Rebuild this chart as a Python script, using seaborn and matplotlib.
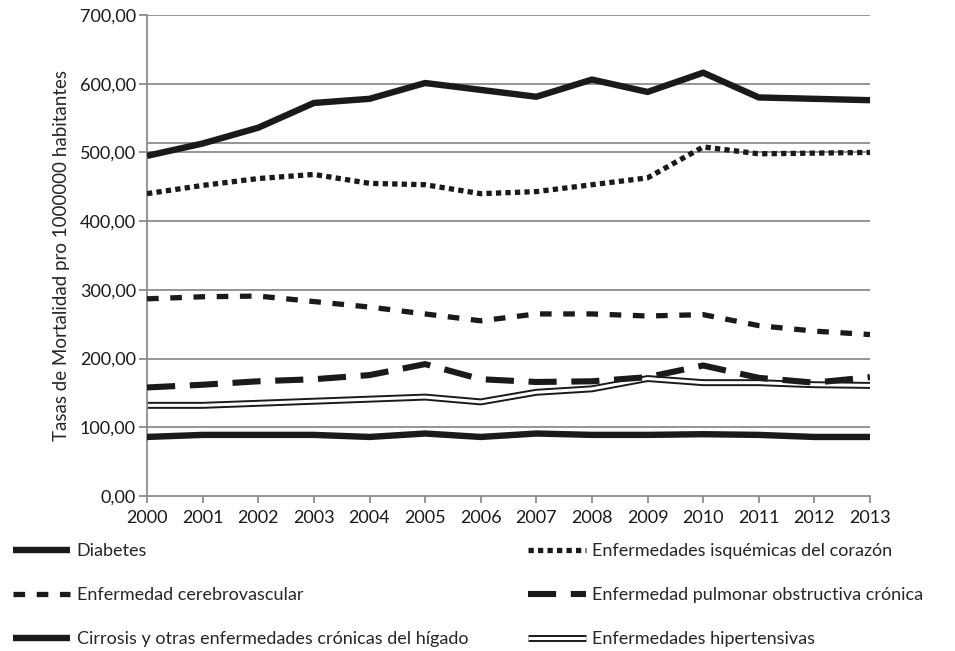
import matplotlib
matplotlib.use("Agg")
import matplotlib.pyplot as plt
from matplotlib.legend_handler import HandlerTuple
import numpy as np
import pandas as pd
import seaborn as sns
from matplotlib.lines import Line2D
from matplotlib.ticker import FuncFormatter

years = list(range(2000, 2014))

diabetes = [495, 513, 536, 572, 578, 601, 591, 581, 606, 588, 616, 580, 578, 576]
isquemicas = [440, 452, 462, 468, 455, 453, 440, 443, 453, 463, 508, 498, 499, 500]
cerebrovascular = [287, 290, 291, 283, 275, 265, 255, 265, 265, 262, 264, 248, 240, 235]
epoc = [158, 162, 167, 170, 176, 192, 170, 166, 167, 173, 190, 172, 165, 173]
cirrosis = [86, 89, 89, 89, 86, 91, 86, 91, 89, 89, 90, 89, 86, 86]
hipertensivas = [132, 132, 135, 138, 141, 144, 137, 151, 156, 171, 165, 165, 162, 161]

labels = [
    "Diabetes",
    "Enfermedades isquémicas del corazón",
    "Enfermedad cerebrovascular",
    "Enfermedad pulmonar obstructiva crónica",
    "Cirrosis y otras enfermedades crónicas del hígado",
    "Enfermedades hipertensivas",
]
series = [diabetes, isquemicas, cerebrovascular, epoc, cirrosis, hipertensivas]

df = pd.DataFrame({lab: vals for lab, vals in zip(labels, series)}, index=years)
df.index.name = "year"
long_df = df.reset_index().melt(id_vars="year", var_name="causa", value_name="tasa")

sns.set_style("white")
plt.rcParams["font.family"] = ["Lato", "DejaVu Sans"]

# line styles per series (dash patterns in units of linewidth)
styles = {
    labels[0]: dict(lw=4.6, ls="-", cap="butt"),
    labels[1]: dict(lw=3.8, ls=(0, (1.0, 0.8)), cap="butt"),
    labels[2]: dict(lw=3.8, ls=(0, (2.2, 2.2)), cap="butt"),
    labels[3]: dict(lw=4.4, ls=(0, (4.6, 2.4)), cap="butt"),
    labels[4]: dict(lw=4.6, ls="-", cap="round"),
}

fig = plt.figure(figsize=(9.55, 6.51), dpi=100)
ax = fig.add_axes([0.154, 0.238, 0.757, 0.739])

grid_col = "#8c8c8c"
for y in range(100, 701, 100):
    ax.axhline(y, color=grid_col, lw=1.3, zorder=0)
ax.axhline(513, color=grid_col, lw=1.3, zorder=0)

for lab in labels[:5]:
    st = styles[lab]
    sub = long_df[long_df["causa"] == lab]
    sns.lineplot(data=sub, x="year", y="tasa", ax=ax, color="#1a1a1a",
                 lw=st["lw"], linestyle=st["ls"], solid_capstyle=st["cap"],
                 dash_capstyle="butt", legend=False, zorder=3)

# double line for hypertensive diseases
sub = long_df[long_df["causa"] == labels[5]]
sns.lineplot(data=sub, x="year", y="tasa", ax=ax, color="#1a1a1a", lw=5.0,
             legend=False, zorder=2)
sns.lineplot(data=sub, x="year", y="tasa", ax=ax, color="white", lw=2.2,
             legend=False, zorder=2)

ax.set_xlim(2000, 2013)
ax.set_ylim(0, 700)
ax.set_xticks(years)
ax.set_yticks(range(0, 701, 100))
ax.yaxis.set_major_formatter(FuncFormatter(lambda v, p: f"{v:.2f}".replace(".", ",")))
ax.set_xlabel("")
ax.set_ylabel("Tasas de Mortalidad pro 1000000 habitantes", fontsize=13.5, labelpad=7)
ax.tick_params(axis="both", labelsize=13, colors="#1a1a1a")
ax.tick_params(axis="x", length=5, width=1.3, color=grid_col, pad=5, direction="out", bottom=True)
ax.tick_params(axis="y", length=6, width=1.3, color=grid_col, pad=2, direction="out", left=True)
for s in ["top", "right"]:
    ax.spines[s].set_visible(False)
for s in ["left", "bottom"]:
    ax.spines[s].set_color(grid_col)
    ax.spines[s].set_linewidth(1.3)

handles = []
for lab in labels[:5]:
    st = styles[lab]
    handles.append(Line2D([], [], color="#1a1a1a", lw=st["lw"], linestyle=st["ls"],
                          solid_capstyle="butt", dash_capstyle="butt"))
handles.append((Line2D([], [], color="#1a1a1a", lw=5.0, solid_capstyle="butt"),
                Line2D([], [], color="white", lw=2.2, solid_capstyle="butt")))

order = [0, 2, 4, 1, 3, 5]
fig.legend([handles[i] for i in order], [labels[i] for i in order],
           loc="upper left", bbox_to_anchor=(0.0, 0.185), ncol=2,
           frameon=False, fontsize=13, handlelength=3.2, handletextpad=0.35,
           columnspacing=3.3, labelspacing=1.55, borderaxespad=0.3,
           handler_map={tuple: HandlerTuple(ndivide=1, pad=0)})

fig.savefig("out.png", dpi=100)
